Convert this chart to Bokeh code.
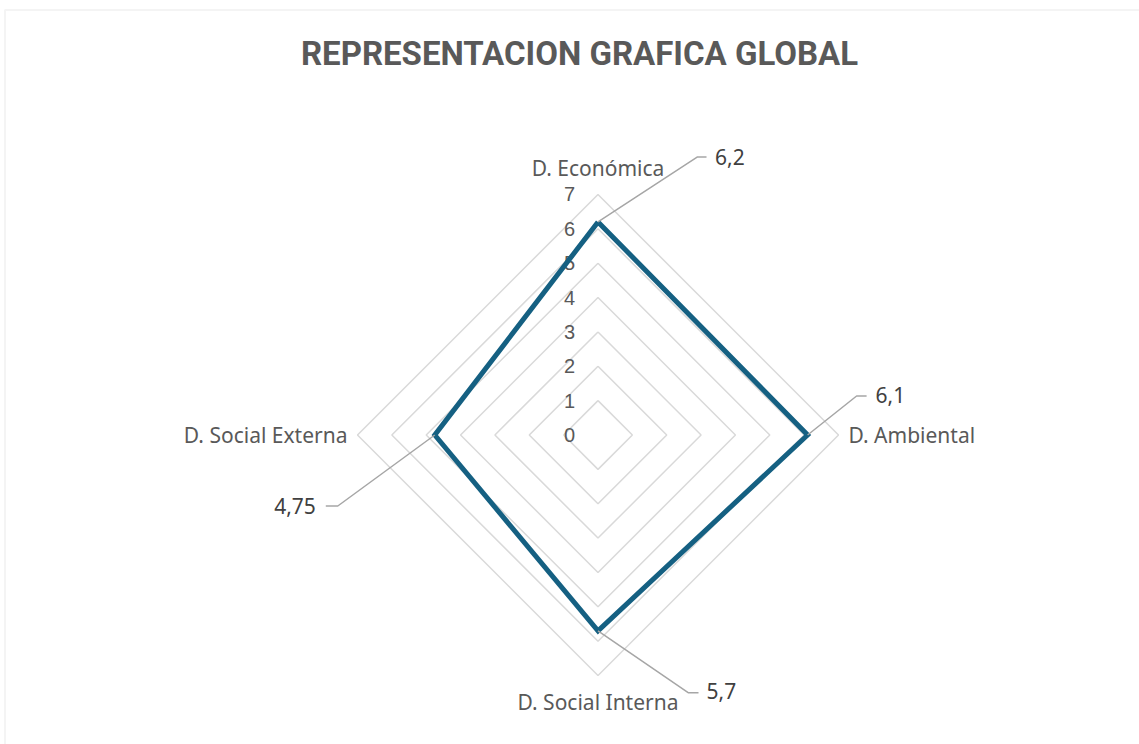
from bokeh.plotting import figure
from bokeh.models import Range1d, BoxAnnotation
from bokeh.core.properties import value
from bokeh.embed import file_html
from bokeh.resources import INLINE
import numpy as np

# ---- data ----
title_text = "REPRESENTACION GRAFICA GLOBAL"
categories = ["D. Económica", "D. Ambiental", "D. Social Interna", "D. Social Externa"]
values = [6.2, 6.1, 5.7, 4.75]
value_labels = ["6,2", "6,1", "5,7", "4,75"]
tick_values = [0, 1, 2, 3, 4, 5, 6, 7]
tick_labels = ["0", "1", "2", "3", "4", "5", "6", "7"]
r_max = 7

# ---- layout ----
W, H = 1139, 744
S = 34.36              # pixels per unit
CX, CY = 597.5, 434.5  # pixel position of radar centre

def X(px):
    return (px - CX) / S

def Y(py):
    return (CY - py) / S

angles = np.pi / 2 - np.arange(len(categories)) * 2 * np.pi / len(categories)
ux, uy = np.cos(angles), np.sin(angles)

p = figure(width=W, height=H, output_backend="svg", toolbar_location=None,
           x_range=Range1d(X(0), X(W)), y_range=Range1d(Y(H), Y(0)),
           x_axis_location=None, y_axis_location=None, min_border=0,
           outline_line_color=None, background_fill_color="white",
           border_fill_color="white")
p.grid.visible = False

# chart area border
p.add_layout(BoxAnnotation(left=X(4.5), top=Y(9.5), right=X(W + 50), bottom=Y(H + 50),
                           fill_alpha=0, line_color="#d9d9d9", line_width=2))

# grid rings
ring_xs, ring_ys = [], []
for r in tick_values[1:]:
    ring_xs.append(list(r * ux) + [r * ux[0]])
    ring_ys.append(list(r * uy) + [r * uy[0]])
p.multi_line(ring_xs, ring_ys, line_color="#d9d9d9", line_width=1.5)

# tick labels
p.text(x=[X(CX - 23)] * len(tick_values), y=tick_values, text=tick_labels,
       text_font=value("Liberation Sans"), text_font_size="20px", text_color="#595959",
       text_align="right", text_baseline="middle")

# data polygon
vx = np.array(values) * ux
vy = np.array(values) * uy
p.line(list(vx) + [vx[0]], list(vy) + [vy[0]], line_color="#156082", line_width=5,
       line_join="miter")

# category labels
cat_off = [(0, -26, "center"), (10, 0, "left"), (0, 26, "center"), (-10, 0, "right")]
cat_x = [r_max * ux[i] + cat_off[i][0] / S for i in range(4)]
cat_y = [r_max * uy[i] - cat_off[i][1] / S for i in range(4)]
for i in range(4):
    p.text(x=[cat_x[i]], y=[cat_y[i]], text=[categories[i]],
           text_font=value("Noto Sans"), text_font_size="21px", text_color="#595959",
           text_align=cat_off[i][2], text_baseline="middle")

# data labels with leader lines (pixel offsets from the data point)
leader = [
    ((99.5, -65), (108.5, -65), (117, -65), "left"),
    ((49, -39), (59, -39), (68, -40), "left"),
    ((90.5, 62), (100.5, 62), (108.5, 60), "left"),
    ((-97, 71), (-109, 71), (-119, 71), "right"),
]
lx, ly = [], []
for i in range(4):
    (ax, ay), (bx, by), (tx, ty), al = leader[i]
    lx.append([vx[i], vx[i] + ax / S, vx[i] + bx / S])
    ly.append([vy[i], vy[i] - ay / S, vy[i] - by / S])
    p.text(x=[vx[i] + tx / S], y=[vy[i] - ty / S], text=[value_labels[i]],
           text_font=value("Noto Sans"), text_font_size="21px", text_color="#404040",
           text_align=al, text_baseline="middle")
p.multi_line(lx, ly, line_color="#a6a6a6", line_width=1.5)

# title
p.text(x=[X(579)], y=[Y(53)], text=[title_text], text_font=value("Roboto"),
       text_font_style="bold", text_font_size="33px", text_color="#595959",
       text_align="center", text_baseline="middle")

open("out.html", "w").write(file_html(p, INLINE))
